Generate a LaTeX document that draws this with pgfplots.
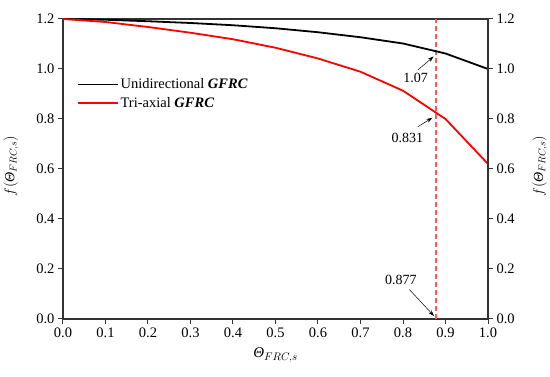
\documentclass[border=0pt]{standalone}
\usepackage{pgfplots}
\pgfplotsset{compat=1.18}
\usepackage{fontspec}
\setmainfont{Liberation Serif}
\usetikzlibrary{arrows.meta}
\definecolor{axgray}{HTML}{333333}
\definecolor{dashred}{rgb}{1,0.35,0.35}
\newcommand{\Th}{\mbox{\itshape Θ}}
\begin{document}
\begin{tikzpicture}
\useasboundingbox (-63pt,-58pt) rectangle (487pt,319pt);
\pgfplotsset{
  common/.style={
    scale only axis, width=425pt, height=300pt,
    xmin=0, xmax=1, ymin=0, ymax=1.2,
    axis line style={axgray, line width=1.2pt},
    tick style={axgray, line width=1.0pt},
    major tick length=5pt,
    tick align=outside,
    ytick={0,0.2,...,1.2},
    /pgf/number format/assume math mode=true,
    /pgf/number format/fixed, /pgf/number format/fixed zerofill,
    /pgf/number format/precision=1,
    ticklabel style={font=\fontsize{14.5}{16}\selectfont, text=black},
    clip=false,
  }
}
\begin{axis}[common,
  xtick={0,0.1,...,1.0},
  xtick pos=bottom, ytick pos=left,
  xlabel={$\Th_{FRC,s}$},
  xlabel style={at={(axis description cs:0.5,-0.12)}, anchor=center, font=\fontsize{15}{17}\selectfont},
  legend style={at={(axis description cs:0.025,0.815)}, anchor=north west, draw=none, fill=none,
    font=\fontsize{14.5}{16}\selectfont, row sep=3pt},
  legend cell align=left,
  legend image code/.code={\draw[#1, line width=1.8pt] (0pt,0pt) -- (40pt,0pt);},
]
\draw[color=dashred, line width=1.6pt, dash pattern=on 5pt off 3pt] (axis cs:0.877,0) -- (axis cs:0.877,1.2);
\addplot[black, line width=1.8pt] coordinates {
(0,1.2) (0.1,1.197) (0.2,1.191) (0.3,1.184) (0.4,1.175) (0.5,1.163)
(0.6,1.147) (0.7,1.127) (0.8,1.102) (0.9,1.062) (1.0,1.0)};
\addlegendentry{Unidirectional \textbf{\textit{GFRC}}}
\addplot[red, line width=1.8pt] coordinates {
(0,1.2) (0.1,1.188) (0.2,1.168) (0.3,1.145) (0.4,1.119) (0.5,1.085)
(0.6,1.042) (0.7,0.989) (0.8,0.913) (0.9,0.80) (1.0,0.62)};
\addlegendentry{Tri-axial \textbf{\textit{GFRC}}}
\node[font=\fontsize{14}{16}\selectfont] at (axis cs:0.83,0.963) {1.07};
\draw[line width=0.5pt, -{Stealth[length=6pt,width=4pt]}] (axis cs:0.835,0.996) -- (axis cs:0.872,1.05);
\node[font=\fontsize{14}{16}\selectfont] at (axis cs:0.81,0.723) {0.831};
\draw[line width=0.5pt, -{Stealth[length=6pt,width=4pt]}] (axis cs:0.835,0.769) -- (axis cs:0.869,0.805);
\node[font=\fontsize{14}{16}\selectfont] at (axis cs:0.795,0.156) {0.877};
\draw[line width=0.5pt, -{Stealth[length=6pt,width=4pt]}] (axis cs:0.815,0.118) -- (axis cs:0.873,0.012);
\node[rotate=90, anchor=center, font=\fontsize{14}{16}\selectfont] at (rel axis cs:-0.122,0.51) {$f(\Th_{FRC,s})$};
\node[rotate=90, anchor=center, font=\fontsize{14}{16}\selectfont] at (rel axis cs:1.122,0.51) {$f(\Th_{FRC,s})$};
\end{axis}
\begin{axis}[common,
  axis x line=none,
  axis y line*=right,
  ytick pos=right,
]
\end{axis}
\end{tikzpicture}
\end{document}
